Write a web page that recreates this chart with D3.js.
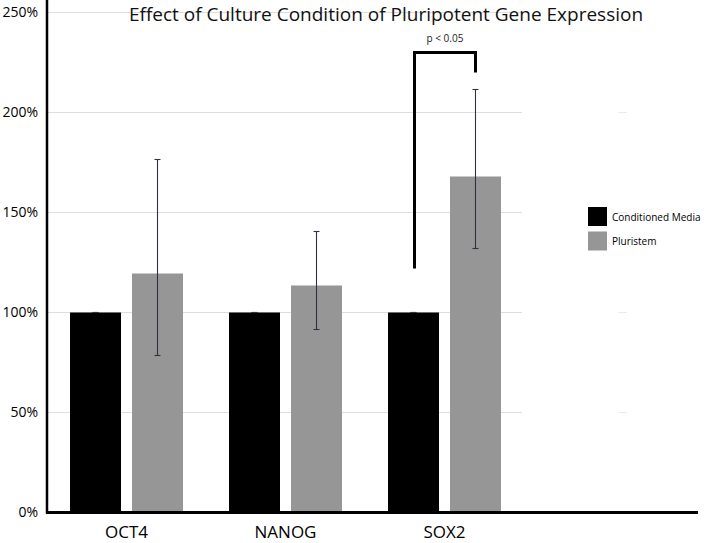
<!DOCTYPE html>
<html><head><meta charset="utf-8">
<script src="https://cdn.jsdelivr.net/npm/d3@7"></script>
<style>body{margin:0;background:#fff}svg{display:block}text{font-family:"Open Sans",sans-serif}</style>
</head><body><svg id="c" width="707" height="543"></svg>
<script>
const categories = ["OCT4", "NANOG", "SOX2"];
const seriesNames = ["Conditioned Media", "Pluristem"];
const conditioned = [100, 100, 100];
const conditionedLow = [100, 100, 100];
const conditionedHigh = [100, 100, 100];
const pluristem = [119.5, 113.5, 168];
const pluristemLow = [78.5, 91.5, 132];
const pluristemHigh = [176.5, 140.5, 211.5];
const yTicks = [0, 50, 100, 150, 200, 250];
const title = "Effect of Culture Condition of Pluripotent Gene Expression";
const sigLabel = "p < 0.05";
const sigCategory = "SOX2";
const sigTop = 230, sigLeftBottom = 122, sigRightBottom = 220;
const colors = ["#000000", "#969696"];

const svg = d3.select("#c");
const x0 = 47, yBottom = 512.5;
const y = d3.scaleLinear().domain([0, 250]).range([yBottom, 12.5]);
const x = d3.scaleBand().domain(categories).range([x0, 524]).paddingInner(46/159).paddingOuter(0.1447);
const xs = d3.scaleBand().domain(seriesNames).range([0, x.bandwidth()]).paddingInner(11/62);

// gridlines
const gridTicks = yTicks.filter(t => t > 0);
svg.append("g").selectAll("line").data(gridTicks).join("line")
  .attr("x1", x0).attr("x2", 522).attr("y1", d => y(d)).attr("y2", d => y(d))
  .attr("stroke", "#dedede").attr("stroke-width", 1);
svg.append("g").selectAll("line").data(gridTicks).join("line")
  .attr("x1", 618).attr("x2", 627).attr("y1", d => y(d)).attr("y2", d => y(d))
  .attr("stroke", "#eaeaea").attr("stroke-width", 1);

// y axis
const yAxis = d3.axisLeft(y).tickValues(yTicks).tickSize(0).tickPadding(9).tickFormat(d => d + "%");
const ya = svg.append("g").attr("transform", `translate(${x0},0)`).call(yAxis);
ya.select(".domain").remove();
ya.selectAll("text").attr("font-size", 14).attr("fill", "#000").attr("font-family", "Open Sans");
svg.append("line").attr("x1", x0).attr("x2", x0).attr("y1", 0).attr("y2", yBottom + 1)
  .attr("stroke", "#000").attr("stroke-width", 2.5);

// bars
const data = categories.map((c, i) => [
  {cat: c, s: seriesNames[0], v: conditioned[i], lo: conditionedLow[i], hi: conditionedHigh[i], col: colors[0]},
  {cat: c, s: seriesNames[1], v: pluristem[i], lo: pluristemLow[i], hi: pluristemHigh[i], col: colors[1]}
]).flat();
svg.append("g").selectAll("rect").data(data).join("rect")
  .attr("x", d => x(d.cat) + xs(d.s)).attr("width", xs.bandwidth())
  .attr("y", d => y(d.v)).attr("height", d => y(0) - y(d.v))
  .attr("fill", d => d.col);

// error bars
const eb = svg.append("g").attr("stroke", "#2d3440").attr("stroke-width", 1.1);
data.forEach(d => {
  const cx = x(d.cat) + xs(d.s) + xs.bandwidth() / 2;
  if (d.hi !== d.lo) eb.append("line").attr("x1", cx).attr("x2", cx).attr("y1", y(d.hi)).attr("y2", y(d.lo));
  eb.append("line").attr("x1", cx - 3).attr("x2", cx + 3).attr("y1", y(d.hi)).attr("y2", y(d.hi));
  eb.append("line").attr("x1", cx - 3).attr("x2", cx + 3).attr("y1", y(d.lo)).attr("y2", y(d.lo));
});

// x axis
svg.append("line").attr("x1", x0 - 1).attr("x2", 698).attr("y1", yBottom).attr("y2", yBottom)
  .attr("stroke", "#000").attr("stroke-width", 3);
const xAxis = d3.axisBottom(x).tickSize(0).tickPadding(0);
const xa = svg.append("g").attr("transform", `translate(0,${yBottom})`).call(xAxis);
xa.select(".domain").remove();
xa.selectAll("text").attr("font-size", 17).attr("fill", "#000").attr("font-family", "Open Sans")
  .attr("dy", null).attr("y", 25);

// significance bracket
const lx = x(sigCategory) + xs(seriesNames[0]) + xs.bandwidth() / 2 + 1;
const rx = x(sigCategory) + xs(seriesNames[1]) + xs.bandwidth() / 2;
svg.append("path")
  .attr("d", `M${lx},${y(sigLeftBottom)}V${y(sigTop)}H${rx}V${y(sigRightBottom)}`)
  .attr("fill", "none").attr("stroke", "#000").attr("stroke-width", 3).attr("stroke-linejoin", "miter");
svg.append("text").attr("x", (lx + rx) / 2).attr("y", 42).attr("text-anchor", "middle")
  .attr("font-size", 10).attr("fill", "#222").text(sigLabel);

// title
svg.append("text").attr("x", 386).attr("y", 21).attr("text-anchor", "middle")
  .attr("font-size", 19).attr("fill", "#111").text(title);

// legend
const lg = svg.append("g").attr("transform", "translate(588,207)");
seriesNames.forEach((s, i) => {
  lg.append("rect").attr("x", 0).attr("y", i * 24.5).attr("width", 19).attr("height", 19).attr("fill", colors[i]);
  lg.append("text").attr("x", 24).attr("y", i * 24.5 + 13.5).attr("font-size", 10).attr("fill", "#000").text(s);
});
</script></body></html>
